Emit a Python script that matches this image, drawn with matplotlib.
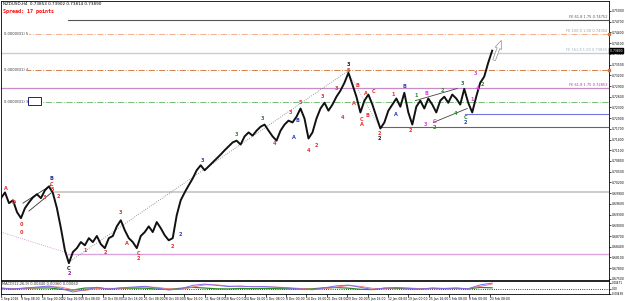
import matplotlib
matplotlib.use("Agg")
import matplotlib.pyplot as plt
from matplotlib.patches import Rectangle
import numpy as np

# H4 closes, one sample every few bars
closes = [
    0.6976, 0.6992, 0.6962, 0.6970, 0.6937, 0.6920, 0.6948, 0.6964, 0.6978, 0.6987,
    0.6976, 0.6998, 0.7009, 0.6990, 0.6948, 0.6892, 0.6830, 0.6794, 0.6825, 0.6836,
    0.6853, 0.6844, 0.6864, 0.6853, 0.6870, 0.6847, 0.6836, 0.6864, 0.6870, 0.6897,
    0.6914, 0.6886, 0.6864, 0.6853, 0.6836, 0.6870, 0.6881, 0.6897, 0.6881, 0.6909,
    0.6892, 0.6872, 0.6858, 0.6864, 0.6928, 0.6970, 0.6992, 0.7012, 0.7031, 0.7054,
    0.7068, 0.7054, 0.7065, 0.7076, 0.7087, 0.7098, 0.7110, 0.7121, 0.7132, 0.7137,
    0.7126, 0.7149, 0.7160, 0.7151, 0.7165, 0.7176, 0.7182, 0.7165, 0.7149, 0.7137,
    0.7165, 0.7182, 0.7193, 0.7188, 0.7204, 0.7227, 0.7199, 0.7143, 0.7160, 0.7199,
    0.7227, 0.7243, 0.7221, 0.7238, 0.7260, 0.7277, 0.7299, 0.7327, 0.7294, 0.7260,
    0.7216, 0.7249, 0.7266, 0.7238, 0.7204, 0.7171, 0.7188, 0.7221, 0.7238, 0.7255,
    0.7232, 0.7271, 0.7216, 0.7182, 0.7232, 0.7249, 0.7227, 0.7255, 0.7238, 0.7216,
    0.7249, 0.7260, 0.7243, 0.7266, 0.7255, 0.7238, 0.7282, 0.7243, 0.7216, 0.7260,
    0.7299, 0.7316, 0.7355, 0.7389,
]

# MACD panel, one value every third sample
macd_main = [
    0.0004, -0.0004, 0.0004, 0.0012, 0.0020, 0.0002, -0.0028, -0.0010, 0.0010, -0.0004,
    0.0006, 0.0012, 0.0018, 0.0004, -0.0012, -0.0002, 0.0026, 0.0036, 0.0026, 0.0016,
    0.0020, 0.0014, 0.0016, 0.0010, 0.0004, -0.0004, -0.0010, 0.0006, 0.0022, 0.0028,
    0.0010, -0.0008, 0.0004, 0.0008, 0.0002, -0.0004, 0.0004, 0.0000, 0.0004, -0.0002,
    0.0030, 0.0044,
]
macd_signal = [
    0.0003, 0.0001, 0.0001, 0.0006, 0.0014, 0.0012, -0.0010, -0.0016, 0.0000, 0.0002,
    0.0002, 0.0008, 0.0014, 0.0010, -0.0002, -0.0006, 0.0012, 0.0030, 0.0030, 0.0020,
    0.0018, 0.0016, 0.0015, 0.0012, 0.0007, 0.0001, -0.0006, -0.0002, 0.0012, 0.0024,
    0.0018, 0.0002, 0.0000, 0.0006, 0.0005, 0.0000, 0.0002, 0.0002, 0.0003, 0.0000,
    0.0018, 0.0036,
]
macd_osma = [
    0.0001, -0.0003, 0.0002, 0.0004, 0.0005, -0.0006, -0.0012, 0.0004, 0.0006, -0.0004,
    0.0002, 0.0003, 0.0003, -0.0004, -0.0006, 0.0002, 0.0010, 0.0004, -0.0002, -0.0003,
    0.0001, -0.0001, 0.0001, -0.0001, -0.0002, -0.0003, -0.0002, 0.0006, 0.0008, 0.0003,
    -0.0006, -0.0008, 0.0002, 0.0002, -0.0002, -0.0003, 0.0001, -0.0001, 0.0001, -0.0002,
    0.0009, 0.0006,
]

date_labels = [
    "1 Sep 2016", "9 Sep 08:00", "16 Sep 00:00", "22 Sep 16:00", "3 Oct 08:00",
    "10 Oct 00:00", "14 Oct 16:00", "21 Oct 08:00", "28 Oct 00:00", "4 Nov 16:00",
    "11 Nov 08:00", "18 Nov 00:00", "24 Nov 16:00", "1 Dec 08:00", "8 Dec 00:00",
    "14 Dec 16:00", "21 Dec 08:00", "29 Dec 00:00", "5 Jan 16:00", "12 Jan 08:00",
    "19 Jan 00:00", "25 Jan 16:00", "1 Feb 08:00", "8 Feb 00:00", "23 Feb 08:00",
]

# horizontal levels: price, first sample, colour, style, width
levels = [
    (0.7475, 16.75, "#555555", "-", 0.8),
    (0.7436, 0.75, "#f4b090", "-.", 0.7),
    (0.7383, 0.0, "#c8ccd4", "-", 1.0),
    (0.7335, 0.75, "#d8804c", "-.", 0.7),
    (0.7285, 0.0, "#c88cc8", "-", 0.9),
    (0.7246, 0.75, "#78bc78", "-.", 0.7),
    (0.7213, 116.25, "#7474e4", "-", 0.8),
    (0.7174, 95.0, "#666666", "-", 0.8),
    (0.6992, 13.0, "#c4c4c4", "-", 1.2),
    (0.6819, 16.75, "#dca4dc", "-", 1.0),
]
level_notes = [
    (0.7475, "FE 61.8 1.75 0.74752", "#555555"),
    (0.7436, "FE 100.0 1.00 0.74364", "#9a9aaa"),
    (0.7383, "FE 161.8 1.00 0.73834", "#a4acbc"),
    (0.7285, "FE 61.8 1.75 0.72853", "#a040a0"),
]
left_notes = [
    (0.7436, "0.0000(D1) 5"),
    (0.7335, "0.0000(D1) 4"),
    (0.7246, "0.0000(D1) 3c"),
]

RED = "#e8302a"
BLUE = "#2a40c0"
NAVY = "#203080"
GREEN = "#229022"
DGREEN = "#2a7a4a"
PURPLE = "#8a209a"
MAGENTA = "#e040e0"
BLACK = "#1a1a1a"

# wave counts: sample, price, text, colour
waves = [
    (1.25, 0.7003, "A", RED), (5.25, 0.6903, "0", RED), (5.25, 0.6881, "0", RED),
    (3.25, 0.6964, "D", RED), (10.75, 0.6978, "3", RED),
    (12.75, 0.7031, "B", NAVY), (12.75, 0.7015, "C", RED), (12.75, 0.7001, "5", RED),
    (14.25, 0.6981, "2", RED),
    (17.0, 0.6780, "C", BLACK), (17.0, 0.6764, "2", PURPLE),
    (21.0, 0.6830, "1", RED), (26.25, 0.6825, "2", RED), (30.0, 0.6937, "3", RED),
    (31.5, 0.6850, "A", RED), (34.5, 0.6820, "C", RED), (34.5, 0.6806, "2", RED),
    (43.0, 0.6842, "2", RED), (45.0, 0.6875, "2", BLUE),
    (50.5, 0.7082, "3", BLUE), (59.0, 0.7154, "3", GREEN), (65.5, 0.7199, "3", DGREEN),
    (68.5, 0.7129, "4", RED), (72.5, 0.7215, "3", RED), (74.25, 0.7193, "B", BLUE),
    (73.25, 0.7146, "A", BLUE), (75.0, 0.7243, "5", RED), (77.0, 0.7110, "4", RED),
    (79.0, 0.7123, "2", RED), (80.5, 0.7260, "3", RED), (84.0, 0.7282, "3", RED),
    (85.5, 0.7202, "4", RED),
    (87.0, 0.7349, "3", BLACK), (87.0, 0.7334, "5", RED),
    (89.25, 0.7291, "B", RED), (88.25, 0.7241, "A", RED), (91.5, 0.7269, "A", RED),
    (93.25, 0.7274, "C", RED), (90.25, 0.7196, "C", RED), (90.25, 0.7182, "A", RED),
    (91.75, 0.7207, "B", RED), (94.75, 0.7158, "2", RED), (94.75, 0.7143, "2", BLACK),
    (98.25, 0.7266, "1", RED), (101.0, 0.7288, "B", BLUE), (99.0, 0.7210, "A", BLUE),
    (102.5, 0.7165, "2", RED), (104.0, 0.7263, "1", GREEN), (106.25, 0.7182, "3", MAGENTA),
    (106.5, 0.7270, "B", MAGENTA), (108.5, 0.7190, "C", MAGENTA), (108.5, 0.7174, "2", GREEN),
    (110.5, 0.7277, "2", GREEN), (113.75, 0.7213, "4", GREEN), (115.5, 0.7296, "3", DGREEN),
    (116.25, 0.7202, "C", GREEN), (116.25, 0.7188, "2", BLUE), (118.0, 0.7252, "1", MAGENTA),
    (118.75, 0.7324, "3", MAGENTA), (119.25, 0.7282, "4", MAGENTA), (120.5, 0.7294, "2", GREEN),
]

# trend lines: (x0, p0), (x1, p1), colour, style
trend_lines = [
    ((0.0, 0.6881), (16.75, 0.6822), "#d080d0", ":"),
    ((17.0, 0.6797), (87.0, 0.7333), "#7a7a7a", ":"),
    ((87.0, 0.7327), (95.0, 0.7171), "#9a9a9a", ":"),
    ((5.5, 0.6962), (12.5, 0.7012), "#333333", "-"),
    ((7.0, 0.6940), (12.5, 0.6990), "#333333", "-"),
    ((103.75, 0.7249), (114.25, 0.7283), "#444444", "-"),
    ((108.25, 0.7188), (116.75, 0.7227), "#444444", "-"),
]

W, H = 625, 301
fig = plt.figure(figsize=(W / 100, H / 100), dpi=100)
ax = fig.add_axes([1 / W, 21 / H, 608 / W, 279 / H])
ax2 = fig.add_axes([1 / W, 7 / H, 608 / W, 13 / H])

x_end = 609 / 4
x = np.arange(len(closes))

for p, start, col, ls, lw in levels:
    ax.plot([start, x_end], [p, p], color=col, ls=ls, lw=lw, zorder=1)
for (x0, p0), (x1, p1), col, ls in trend_lines:
    ax.plot([x0, x1], [p0, p1], color=col, ls=ls, lw=0.6, zorder=2)

ax.plot(x, closes, color="#111111", lw=1.4, zorder=3)

for xi, p, t, col in waves:
    ax.text(xi, p, t, color=col, fontsize=3.6, ha="center", va="center",
            fontweight="bold", zorder=4)

for p, t, col in level_notes:
    ax.text(x_end - 0.5, p + 0.0003, t, color=col, fontsize=2.6, ha="right", va="bottom")
for p, t in left_notes:
    ax.text(0.75, p, t, color="#333333", fontsize=2.6, ha="left", va="center",
            bbox=dict(facecolor="white", edgecolor="none", pad=0.2))
ax.add_patch(Rectangle((6.75, 0.7238), 3.25, 0.0020, facecolor="white",
                       edgecolor="#202080", lw=0.7, zorder=5))

# small level markers at right edge
for p, col in [(0.7436, "#e07030"), (0.7335, "#d0743c")]:
    ax.plot([x_end], [p], marker="s", ms=1.5, color=col, clip_on=False, zorder=6)

ax.annotate("", xy=(125.5, 0.7425), xytext=(123.25, 0.7355),
            arrowprops=dict(arrowstyle="simple,head_width=0.5,head_length=0.6,tail_width=0.2",
                            fc="white", ec="#909090", lw=0.5))

ax.set_xlim(0, x_end)
ax.set_ylim(0.7528 - 280 * 0.000279, 0.7528)
yt = np.arange(0.6750, 0.7501, 0.0030)
ax.set_yticks(yt)
ax.set_yticklabels([f"{v:.5f}" for v in yt])
ax.yaxis.tick_right()
ax.tick_params(axis="y", labelsize=2.2, length=1.5, width=0.5, pad=0.5)
ax.set_xticks([])
for s in ax.spines.values():
    s.set_linewidth(0.6)

last = closes[-1]
ax.text(1.0, last, f" {last:.5f}", transform=ax.get_yaxis_transform(), color="white",
        fontsize=2.2, ha="left", va="center",
        bbox=dict(facecolor="black", edgecolor="black", pad=0.3))

fig.text(3 / W, 1 - 2 / H, "NZDUSD,H4  0.73853 0.73902 0.73814 0.73890",
         fontsize=3.0, ha="left", va="top", color="black")
fig.text(3 / W, 1 - 9 / H, "Spread: 17 points", fontsize=3.6, ha="left", va="top",
         color="red", family="DejaVu Sans Mono", fontweight="bold")

# MACD panel
xm = np.arange(len(macd_main)) * 3
ax2.axhline(0, color="black", ls=":", lw=0.6)
ax2.plot(xm, macd_osma, color="#2a8a2a", lw=0.9)
ax2.plot(xm, macd_signal, color="#ff6a6a", lw=0.6)
ax2.plot(xm, macd_main, color="#7a6af0", lw=0.7)
ax2.set_xlim(0, x_end)
ax2.set_ylim(-0.0044, 0.0061)
ax2.set_yticks([0.00471, 0.0, -0.00438])
ax2.set_yticklabels(["0.00471", "0.00", "-0.00438"])
ax2.yaxis.tick_right()
ax2.tick_params(axis="y", labelsize=2.0, length=1.5, width=0.5, pad=0.5)
ax2.text(0.3, 0.0052, "MACD(12,26,9) 0.00440 0.00360 0.00060", fontsize=2.6,
         ha="left", va="top", color="#333333")
xt = np.arange(len(date_labels)) * 5.1
ax2.set_xticks(xt)
ax2.set_xticklabels(date_labels, ha="left")
ax2.tick_params(axis="x", labelsize=2.2, length=2, width=0.5, pad=0.5)
for s in ax2.spines.values():
    s.set_linewidth(0.6)

fig.savefig("out.png", dpi=100)
